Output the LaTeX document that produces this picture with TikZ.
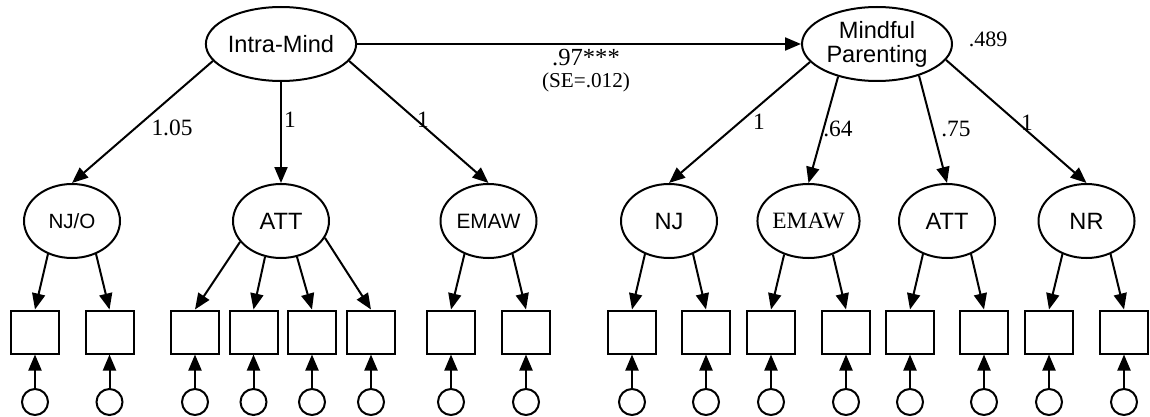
\documentclass[tikz,border=0pt]{standalone}
\usepackage{fontspec}
\setmainfont{Liberation Serif}
\newfontfamily\arial{Liberation Sans}
\usetikzlibrary{arrows.meta,shapes.geometric}
\begin{document}
\begin{tikzpicture}[x=0.5pt,y=-0.5pt,
  line width=1pt,
  arr/.style={-{Triangle[length=8pt,width=6.5pt]}},
  big/.style={ellipse,draw,minimum width=75pt,minimum height=37pt,inner sep=0pt,align=center,font=\arial\fontsize{11.8}{12}\selectfont},
  lat/.style={ellipse,draw,minimum width=48pt,minimum height=37pt,inner sep=0pt,font=\arial\fontsize{11.8}{12}\selectfont},
  ind/.style={rectangle,draw,minimum width=24pt,minimum height=21.5pt,inner sep=0pt},
  err/.style={circle,draw,minimum size=13pt,inner sep=0pt},
  num/.style={inner sep=0pt,font=\fontsize{11.7}{12}\selectfont},
]
\useasboundingbox (0,0) rectangle (1150,417);

% second-order latents
\node[big] (im) at (281,44) {Intra-Mind};
\node[big] (mp) at (877,44) {Mindful\\Parenting};

% first-order latents
\node[lat,font=\arial\fontsize{10.3}{12}\selectfont] (njo) at (72,221) {NJ/O};
\node[lat] (attl) at (281,221) {ATT};
\node[lat,font=\arial\fontsize{10.4}{12}\selectfont] (emawl) at (488.5,221) {EMAW};
\node[lat] (nj) at (669,221) {NJ};
\node[lat,font=\fontsize{11.7}{12}\selectfont] (emawr) at (808.5,221) {EMAW};
\node[lat] (attr) at (947,221) {ATT};
\node[lat] (nr) at (1086.5,221) {NR};

% indicators and errors
\foreach \x [count=\i] in {35,109.5,195,253.5,312,371,451,526,632,706,771,846,910,984,1049,1124}{
  \node[ind] (s\i) at (\x,332) {};
  \node[err] (e\i) at (\x,402) {};
  \draw[arr] (e\i) -- (s\i);
}

% structural path
\draw[arr] (im.east) -- (mp.west);

% second-order loadings
\draw[arr] (im.194) -- (njo.north);
\draw[arr] (im.south) -- (attl.north);
\draw[arr] (im.346) -- (emawl.north);
\draw[arr] (mp.195) -- (nj.north);
\draw[arr] (mp.220) -- (emawr.north);
\draw[arr] (mp.323) -- (attr.north);
\draw[arr] (mp.347) -- (nr.north);

% first-order loadings
\draw[arr] (njo.234) -- (s1.north);
\draw[arr] (njo.306) -- (s2.north);
\draw[arr] (attl.207) -- (s3.north);
\draw[arr] (attl.246) -- (s4.north);
\draw[arr] (attl.294) -- (s5.north);
\draw[arr] (attl.339) -- (s6.north);
\draw[arr] (emawl.234) -- (s7.north);
\draw[arr] (emawl.306) -- (s8.north);
\draw[arr] (nj.234) -- (s9.north);
\draw[arr] (nj.306) -- (s10.north);
\draw[arr] (emawr.234) -- (s11.north);
\draw[arr] (emawr.306) -- (s12.north);
\draw[arr] (attr.234) -- (s13.north);
\draw[arr] (attr.306) -- (s14.north);
\draw[arr] (nr.234) -- (s15.north);
\draw[arr] (nr.306) -- (s16.north);

% labels
\node[num] (l1) at (172,128) {1.05};
\node[num] (l2) at (290,120) {1};
\node[num] (l3) at (423,120) {1};
\node[num,font=\fontsize{12.3}{12}\selectfont] (l4) at (586,58) {.97***};
\node[num,font=\fontsize{10.6}{12}\selectfont] (l5) at (586,82) {(SE=.012)};
\node[num] (l6) at (759,122) {1};
\node[num] (l7) at (838,129) {.64};
\node[num] (l8) at (956,129) {.75};
\node[num] (l9) at (1027,123) {1};
\node[num,font=\fontsize{11}{12}\selectfont] (l10) at (988,39) {.489};
\end{tikzpicture}
\end{document}
